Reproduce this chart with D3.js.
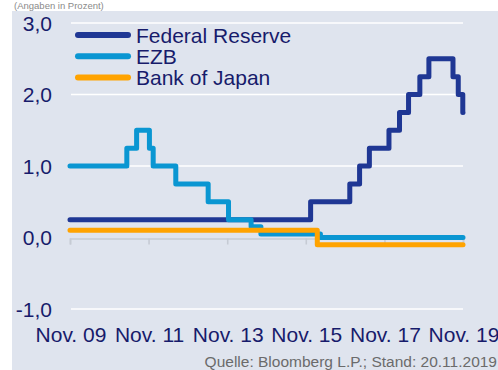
<!DOCTYPE html>
<html><head><meta charset="utf-8">
<script src="https://cdn.jsdelivr.net/npm/d3@7/dist/d3.min.js"></script>
<style>html,body{margin:0;padding:0;background:#fff;}svg{display:block;}</style>
</head><body>
<svg id="c" width="498" height="370"></svg>
<script>
// Leitzinsen (Angaben in Prozent)
const seriesNames = ["Federal Reserve", "EZB", "Bank of Japan"];
const fedDates = ["2009-11-01","2015-12-16","2016-12-14","2017-03-15","2017-06-14","2017-12-13","2018-03-21","2018-06-13","2018-09-26","2018-12-19","2019-07-31","2019-09-18","2019-10-30","2019-11-01"];
const fedValues = [0.25,0.5,0.75,1.0,1.25,1.5,1.75,2.0,2.25,2.5,2.25,2.0,1.75,1.75];
const ezbDates = ["2009-11-01","2011-04-13","2011-07-13","2011-11-09","2011-12-14","2012-07-11","2013-05-08","2013-11-13","2014-06-11","2014-09-10","2016-03-16","2019-11-01"];
const ezbValues = [1.0,1.25,1.5,1.25,1.0,0.75,0.5,0.25,0.15,0.05,0.0,0.0];
const bojDates = ["2009-11-01","2016-02-16","2019-11-01"];
const bojValues = [0.1,-0.1,-0.1];
const yTicks = [-1, 0, 1, 2, 3];
const xTickDates = ["2009-11-01","2011-11-01","2013-11-01","2015-11-01","2017-11-01","2019-11-01"];
const xTickLabels = ["Nov. 09","Nov. 11","Nov. 13","Nov. 15","Nov. 17","Nov. 19"];
const colors = ["#1f3794", "#0a96d2", "#ffa300"];

const parse = d3.timeParse("%Y-%m-%d");
const svg = d3.select("#c");
const font = "'Liberation Sans', Arial, sans-serif";
const navy = "#171b6b";

svg.append("text").attr("x", 14).attr("y", 8.5).attr("font-family", font).attr("font-size", 9.5)
  .attr("fill", "#8a8a8a").text("(Angaben in Prozent)");
svg.append("rect").attr("x", 12).attr("y", 11).attr("width", 486).attr("height", 359).attr("fill", "#dfe4ee");

const x = d3.scaleTime().domain([parse("2009-11-01"), parse("2019-11-01")]).range([70, 463]);
const y = d3.scaleLinear().domain([-1, 3]).range([309, 23]);

// gridlines
svg.append("g").selectAll("line").data(yTicks.filter(v => v !== 0)).join("line")
  .attr("x1", 71).attr("x2", 463).attr("y1", d => y(d)).attr("y2", d => y(d))
  .attr("stroke", "#ffffff").attr("stroke-width", 1.6);

// zero axis
const xAxis = d3.axisBottom(x).tickValues(xTickDates.map(parse)).tickSize(6).tickFormat("");
const gx = svg.append("g").attr("transform", `translate(0,${y(0) + 1})`).call(xAxis);
gx.select(".domain").attr("stroke", "#c6cbd4").attr("stroke-width", 1.6);
gx.selectAll(".tick line").attr("stroke", "#c6cbd4").attr("stroke-width", 1.6);

// y labels
const yAxis = d3.axisLeft(y).tickValues(yTicks).tickSize(0)
  .tickFormat(d => d3.format(".1f")(d).replace(".", ",").replace("−", "-"));
const gy = svg.append("g").attr("transform", "translate(52,0)").call(yAxis);
gy.select(".domain").remove();
gy.selectAll("text").attr("font-family", font).attr("font-size", 21).attr("fill", navy)
  .attr("dy", "0.34em").attr("x", 0);

// x labels
svg.append("g").selectAll("text").data(xTickDates).join("text")
  .attr("x", d => x(parse(d)) + 1).attr("y", 342).attr("text-anchor", "middle")
  .attr("font-family", font).attr("font-size", 21).attr("fill", navy)
  .text((d, i) => xTickLabels[i]);

// series
const line = d3.line().curve(d3.curveStepAfter).x(d => x(d[0])).y(d => y(d[1]));
const series = [
  fedDates.map((d, i) => [parse(d), fedValues[i]]),
  ezbDates.map((d, i) => [parse(d), ezbValues[i]]),
  bojDates.map((d, i) => [parse(d), bojValues[i]])
];
series.forEach((s, i) => {
  svg.append("path").datum(s).attr("d", line).attr("fill", "none")
    .attr("stroke", colors[i]).attr("stroke-width", 5)
    .attr("stroke-linejoin", "round").attr("stroke-linecap", "round");
});

// legend
const lg = svg.append("g");
seriesNames.forEach((n, i) => {
  const yy = 35 + i * 21.3;
  lg.append("line").attr("x1", 78).attr("x2", 128).attr("y1", yy).attr("y2", yy)
    .attr("stroke", colors[i]).attr("stroke-width", 6).attr("stroke-linecap", "round");
  lg.append("text").attr("x", 136).attr("y", yy + 7.5).attr("font-family", font)
    .attr("font-size", 21).attr("fill", navy).text(n);
});

// source
svg.append("text").attr("x", 497).attr("y", 366.5).attr("text-anchor", "end")
  .attr("font-family", font).attr("font-size", 15.5).attr("fill", "#6b6b6b")
  .text("Quelle: Bloomberg L.P.; Stand: 20.11.2019");
</script>
</body></html>
